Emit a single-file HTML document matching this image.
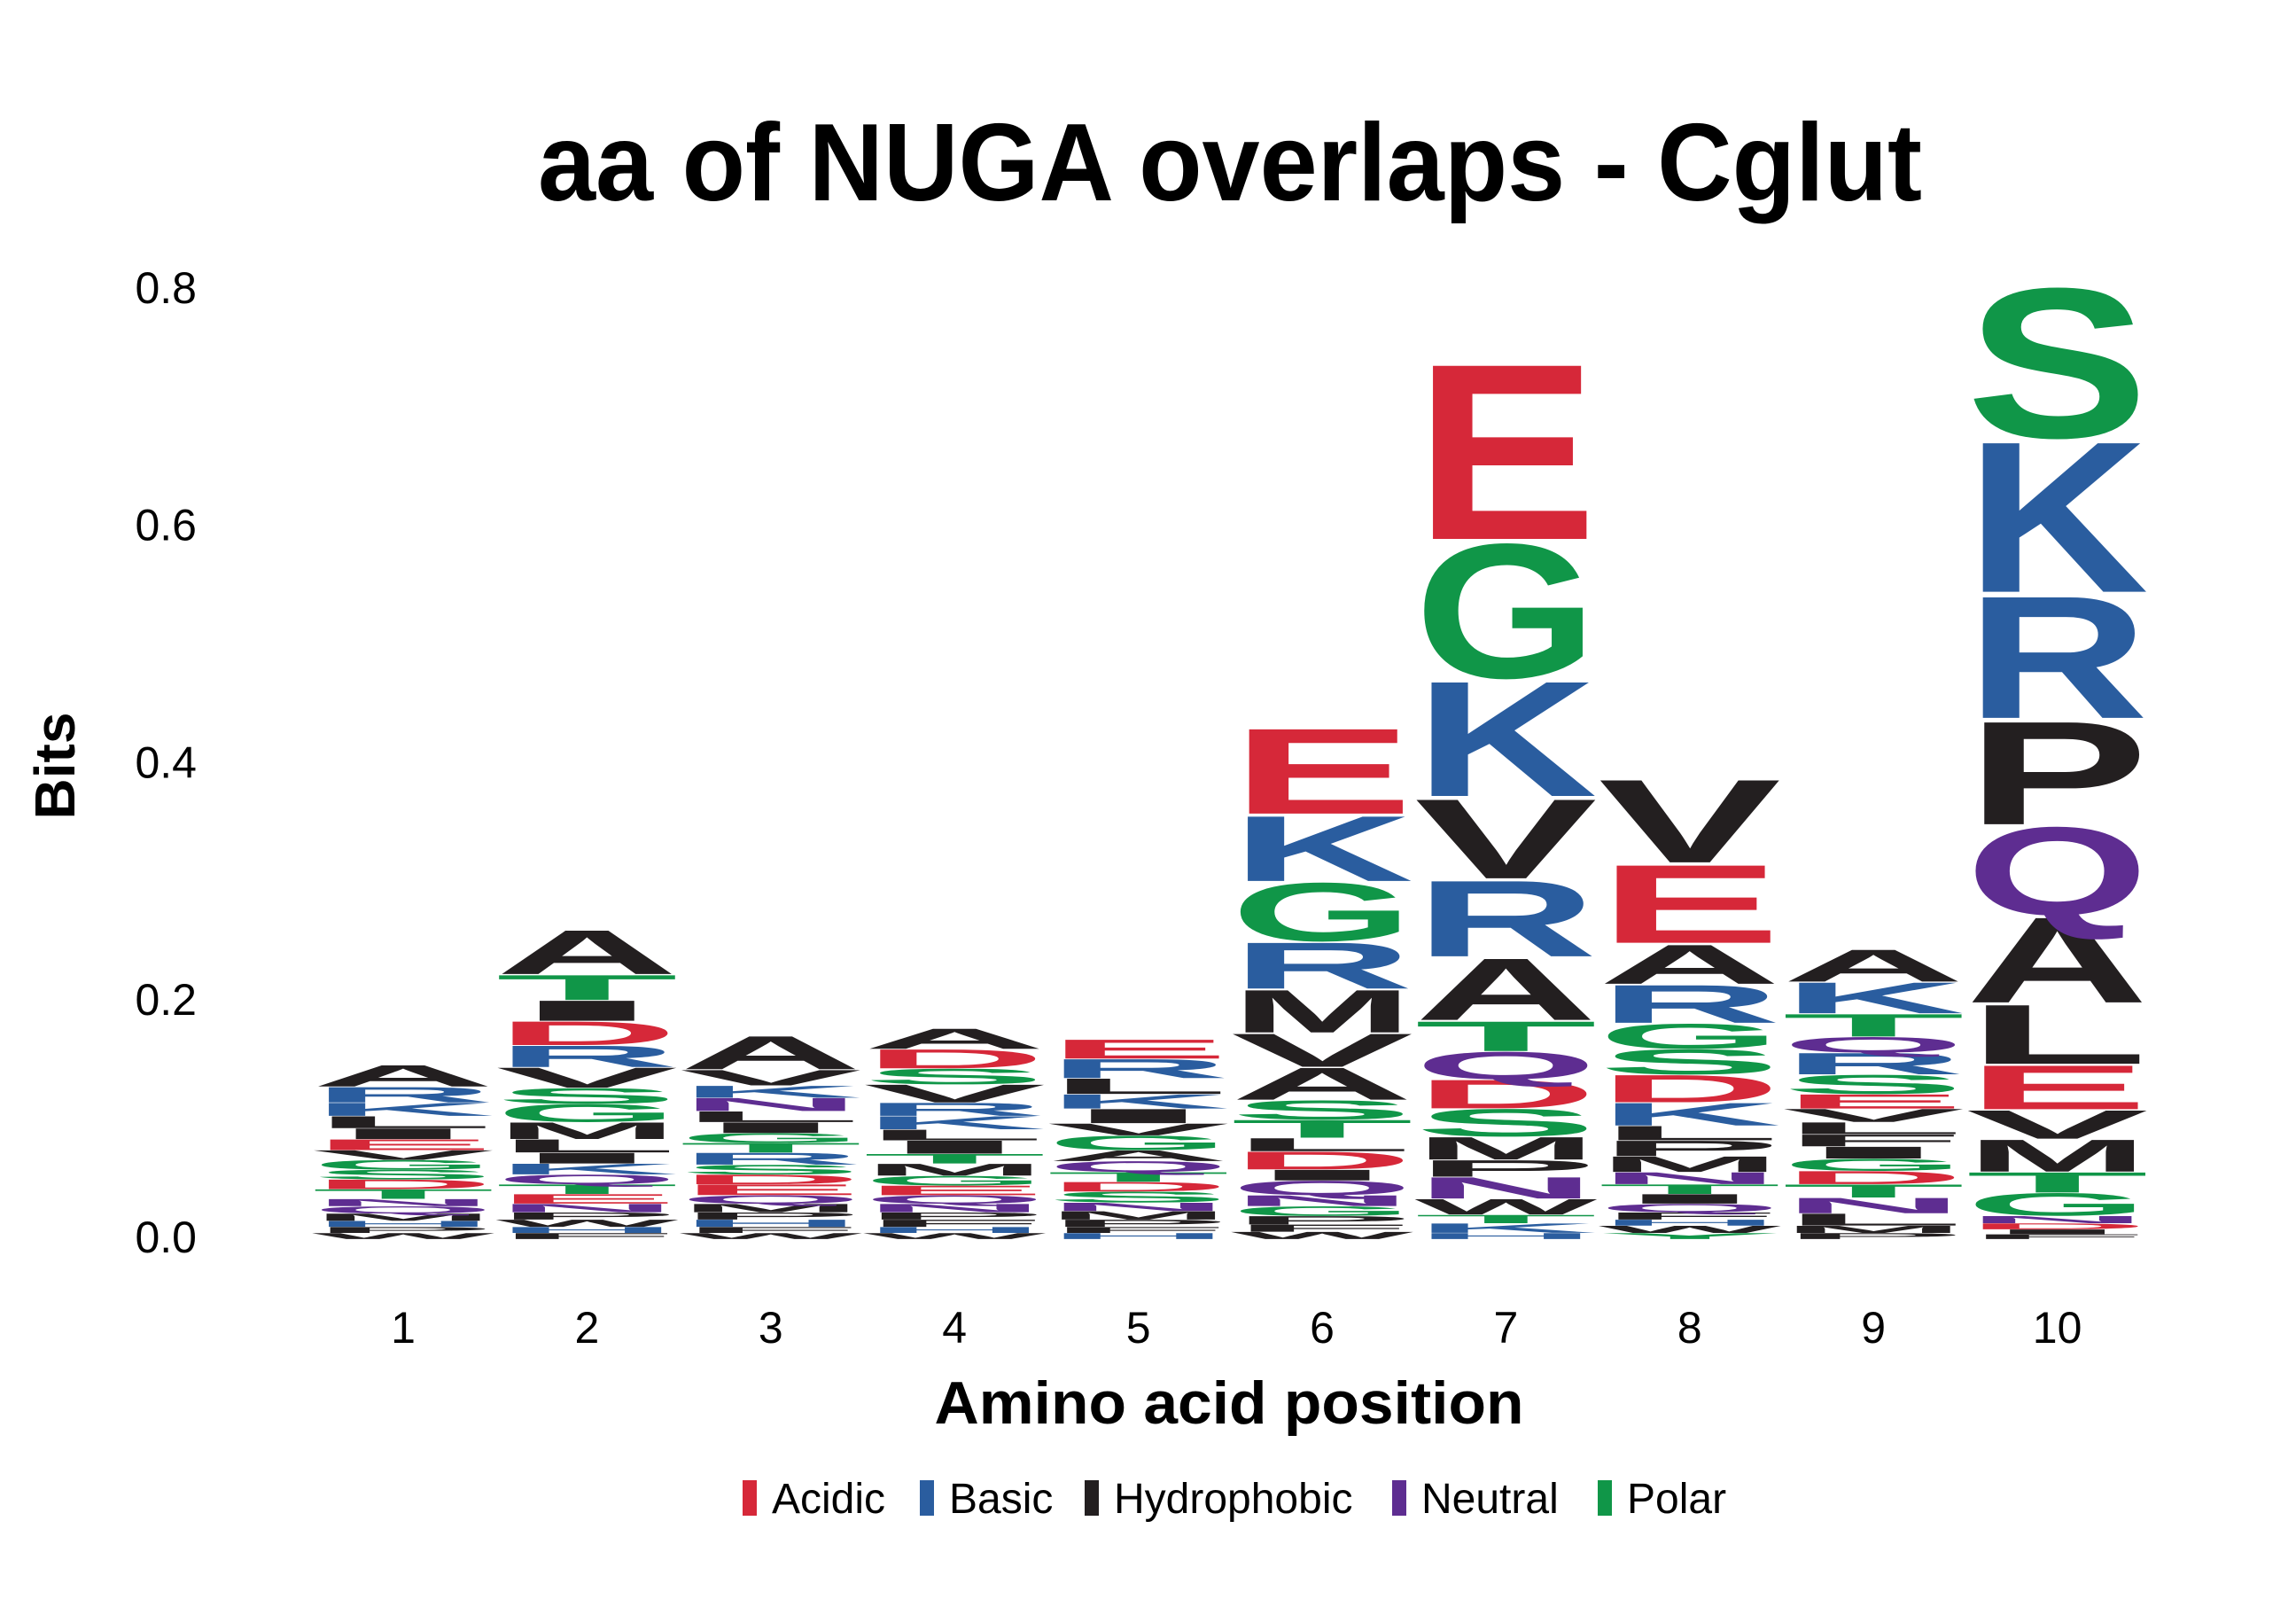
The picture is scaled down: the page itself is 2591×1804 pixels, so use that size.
<!DOCTYPE html>
<html>
<head>
<meta charset="utf-8">
<style>
html,body{margin:0;padding:0;background:#fff;}
svg{display:block;}
</style>
</head>
<body>
<svg id="chart" xmlns="http://www.w3.org/2000/svg" width="2591" height="1804" viewBox="0 0 2591 1804">
  <rect x="0" y="0" width="2591" height="1804" fill="#ffffff"/>
  <text x="1388" y="226" font-family="Liberation Sans, sans-serif" font-weight="bold" font-size="124" text-anchor="middle" textLength="1562" lengthAdjust="spacingAndGlyphs" fill="#000">aa of NUGA overlaps - Cglut</text>
  <text transform="translate(84,864) rotate(-90)" font-family="Liberation Sans, sans-serif" font-weight="bold" font-size="64" text-anchor="middle" fill="#000">Bits</text>
  <text x="1387" y="1606" font-family="Liberation Sans, sans-serif" font-weight="bold" font-size="68" text-anchor="middle" textLength="665" lengthAdjust="spacingAndGlyphs" fill="#000">Amino acid position</text>
  <g id="yticks"></g>
  <g id="xticks"></g>
  <g id="stacks"></g>
  <g id="legend"></g>
</svg>
<script>
const positions = [1,2,3,4,5,6,7,8,9,10];
const yTicks = [0.0,0.2,0.4,0.6,0.8];
const yTickLabels = ["0.0","0.2","0.4","0.6","0.8"];
// letters listed top to bottom
const stackLetters = [
 ["A","R","K","L","I","E","V","G","S","D","T","N","Q","M","H","P","W"],
 ["A","T","I","D","R","V","S","G","M","L","I","K","Q","T","E","N","P","W","H","F"],
 ["A","V","K","N","L","I","G","T","R","S","D","E","Q","M","P","H","F","W"],
 ["A","D","S","V","R","K","L","I","T","M","G","E","Q","N","P","F","H","W"],
 ["E","R","L","K","I","V","G","A","Q","T","D","S","N","M","P","F","H"],
 ["E","K","G","R","M","V","A","S","T","L","D","I","Q","N","G","P","F","W"],
 ["E","G","K","V","R","A","T","Q","D","S","M","P","N","W","T","K","H"],
 ["V","E","A","R","G","S","D","K","L","P","M","N","T","I","Q","F","H","W","Y"],
 ["A","K","T","Q","R","S","E","V","L","F","I","G","D","T","N","L","M","P"],
 ["S","K","R","P","Q","A","L","E","V","M","T","G","N","D","I","F"]
];
const stackBits = [
 [.018,.013,.011,.01,.009,.009,.008,.008,.008,.008,.008,.006,.006,.006,.005,.005,.005],
 [.037,.021,.017,.02,.018,.017,.013,.015,.014,.011,.009,.009,.008,.008,.008,.007,.006,.006,.005,.005],
 [.028,.013,.01,.011,.009,.009,.008,.008,.01,.008,.008,.009,.007,.007,.006,.006,.005,.005],
 [.017,.016,.013,.015,.011,.011,.009,.011,.008,.01,.008,.008,.007,.007,.006,.006,.005,.005],
 [.016,.016,.013,.012,.012,.01,.012,.009,.009,.008,.008,.009,.007,.007,.006,.005,.005],
 [.072,.055,.049,.039,.036,.028,.027,.016,.015,.011,.015,.009,.012,.009,.008,.007,.006,.006],
 [.148,.113,.097,.067,.064,.052,.025,.023,.024,.023,.019,.014,.018,.013,.007,.008,.005],
 [.070,.066,.033,.032,.021,.021,.023,.019,.012,.013,.013,.01,.008,.008,.007,.006,.005,.006,.005],
 [.027,.026,.019,.013,.018,.016,.012,.011,.01,.01,.01,.01,.011,.011,.013,.01,.006,.005],
 [.126,.127,.103,.087,.074,.072,.05,.037,.024,.027,.017,.019,.006,.005,.004,.004]
];
const legendLabels = ["Acidic","Basic","Hydrophobic","Neutral","Polar"];
const legendColors = ["#d62839","#2a5d9f","#231f20","#5e2d91","#109648"];
const letterGroup = {D:0,E:0,K:1,R:1,H:1,A:2,V:2,L:2,I:2,M:2,F:2,W:2,P:2,N:3,Q:3,S:4,T:4,G:4,C:4,Y:4};

const NS = "http://www.w3.org/2000/svg";
const y0 = 1398, pxPerBit = 1374, tickPxPerBit = 1339;
function yScale(v){ return y0 - v*pxPerBit; }
function yTickScale(v){ return y0 - v*tickPxPerBit; }
function xScale(p){ return 455 + (p-1)*207.4; }
const stackW = 206;

const yt = document.getElementById('yticks');
yTicks.forEach((v,i)=>{
  const t = document.createElementNS(NS,'text');
  t.setAttribute('x',222); t.setAttribute('y',yTickScale(v)+15);
  t.setAttribute('text-anchor','end'); t.setAttribute('font-family','Liberation Sans, sans-serif');
  t.setAttribute('font-size','50'); t.setAttribute('fill','#000');
  t.textContent = yTickLabels[i];
  
  
  yt.appendChild(t);
});
const xt = document.getElementById('xticks');
positions.forEach(p=>{
  const t = document.createElementNS(NS,'text');
  t.setAttribute('x',xScale(p)); t.setAttribute('y',1515);
  t.setAttribute('text-anchor','middle'); t.setAttribute('font-family','Liberation Sans, sans-serif');
  t.setAttribute('font-size','50'); t.setAttribute('fill','#000');
  t.textContent = String(p);
  
  
  xt.appendChild(t);
});
const st = document.getElementById('stacks');
stackLetters.forEach((letters,pi)=>{
  const bits = stackBits[pi];
  const g = document.createElementNS(NS,'g');
  
  
  const x0 = xScale(positions[pi]) - stackW/2;
  let cum = 0;
  for (let i = letters.length-1; i >= 0; i--) {
    const hBits = bits[i];
    const yb = yScale(cum);
    const hpx = hBits*pxPerBit;
    cum += hBits;
    const glyphH = hpx*0.96;
    const t = document.createElementNS(NS,'text');
    t.setAttribute('transform','translate('+x0+','+(yb - hpx*0.02)+') scale(1,'+(glyphH/68.8)+')');
    t.setAttribute('x',0); t.setAttribute('y',0);
    t.setAttribute('font-family','Liberation Sans, sans-serif');
    t.setAttribute('font-weight','bold'); t.setAttribute('font-size','100');
    t.setAttribute('textLength',stackW); t.setAttribute('lengthAdjust','spacingAndGlyphs');
    t.setAttribute('fill',legendColors[letterGroup[letters[i]]]);
    t.textContent = letters[i];
    
    
    g.appendChild(t);
  }
  st.appendChild(g);
});
const lg = document.getElementById('legend');
const barX = [838,1038,1224,1571,1803];
legendLabels.forEach((lab,i)=>{
  const r = document.createElementNS(NS,'rect');
  r.setAttribute('x',barX[i]); r.setAttribute('y',1670); r.setAttribute('width',16); r.setAttribute('height',40);
  r.setAttribute('fill',legendColors[i]);
  
  
  lg.appendChild(r);
  const t = document.createElementNS(NS,'text');
  t.setAttribute('x',barX[i]+33); t.setAttribute('y',1707);
  t.setAttribute('font-family','Liberation Sans, sans-serif'); t.setAttribute('font-size','48'); t.setAttribute('fill','#000');
  t.textContent = lab;
  
  
  lg.appendChild(t);
});
</script>
</body>
</html>
